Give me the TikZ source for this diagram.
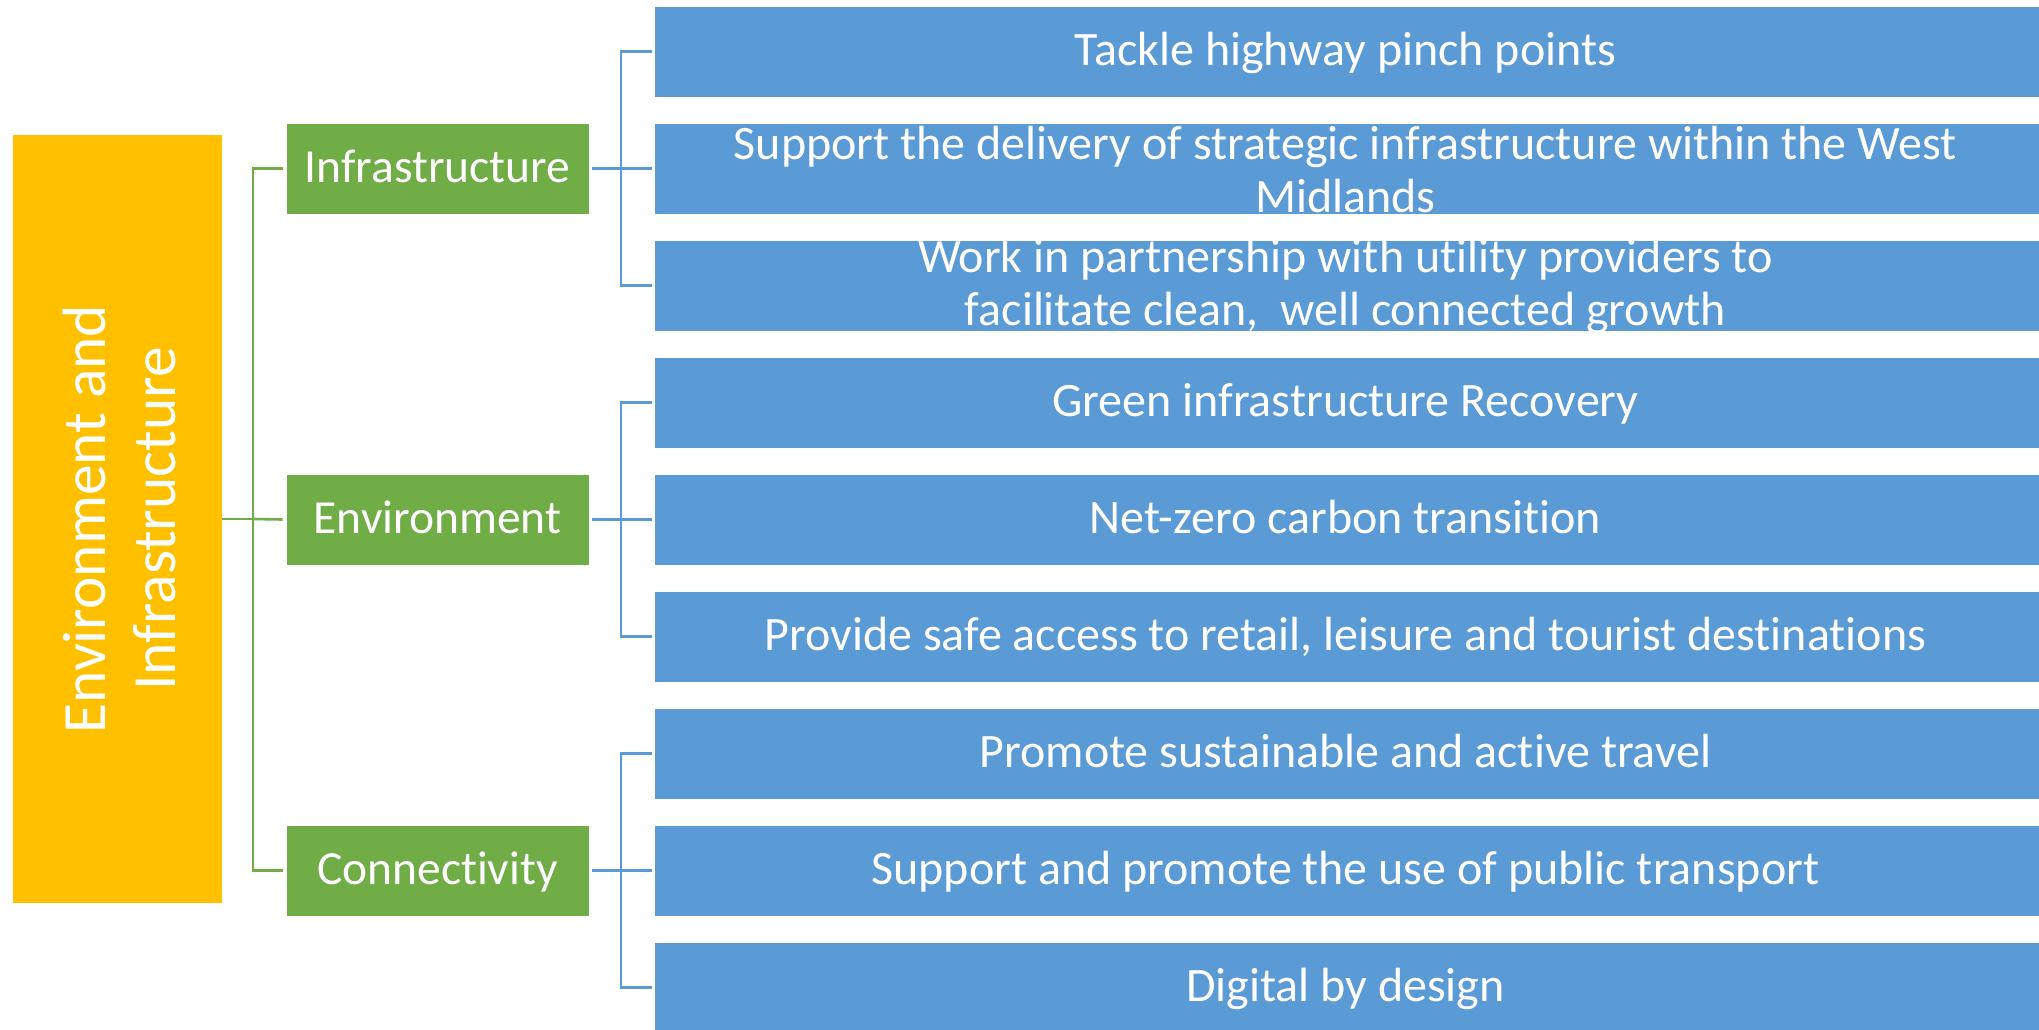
\documentclass[tikz,border=0pt]{standalone}
\usepackage{fontspec}
\setmainfont{Carlito}[Ligatures=NoCommon]
\definecolor{cyellow}{HTML}{FFC000}
\definecolor{cgreen}{HTML}{70AD47}
\definecolor{cblue}{HTML}{5B9BD5}
\begin{document}
\begin{tikzpicture}[x=1pt,y=-1pt,
  bluebox/.style={fill=cblue, draw=white, line width=0.8pt, minimum width=1400pt, minimum height=91pt, inner sep=0pt, anchor=west},
  bluetext/.style={text=white, font=\fontsize{48}{53}\selectfont, align=center, inner sep=0pt},
  bluetextone/.style={bluetext, text height=40pt, text depth=12pt},
  greenbox/.style={fill=cgreen, draw=white, line width=0.8pt, minimum width=303pt, minimum height=91pt, inner sep=0pt, text=white, font=\fontsize{47.5}{55}\selectfont, text height=40pt, text depth=12pt},
  yellowbox/.style={fill=cyellow, minimum width=209pt, minimum height=768pt, inner sep=0pt},
  yellowtext/.style={text=white, font=\fontsize{61.5}{70}\selectfont, align=center, rotate=90, inner sep=0pt},
  gline/.style={draw=cgreen, line width=2.6pt},
  bline/.style={draw=cblue, line width=2.6pt}]
\useasboundingbox (0,0) rectangle (2039,1030);
\fill[white] (0,0) rectangle (2039,1030);
% root
\node[yellowbox] (y) at (117.5,519) {};
\node[yellowtext] (yt) at ([xshift=2pt]y.center) {Environment and\\Infrastructure};
% level 2
\node[greenbox] (g1) at (437.5,168.5) {Infrastructure};
\node[greenbox] (g2) at (437.5,519.5) {Environment};
\node[greenbox] (g3) at (437.5,870.5) {Connectivity};
% level 3
\node[bluebox] (b1) at (654,51.5) {};
\node[bluebox] (b2) at (654,168.5) {};
\node[bluebox] (b3) at (654,285.5) {};
\node[bluebox] (b4) at (654,402.5) {};
\node[bluebox] (b5) at (654,519.5) {};
\node[bluebox] (b6) at (654,636.5) {};
\node[bluebox] (b7) at (654,753.5) {};
\node[bluebox] (b8) at (654,870.5) {};
\node[bluebox] (b9) at (654,987.5) {};
\node[bluetextone] (t1) at ([xshift=-9pt]b1.center) {Tackle highway pinch points};
\node[bluetext] (t2) at ([xshift=-9pt,yshift=-1pt]b2.center) {Support the delivery of strategic infrastructure within the West\\Midlands};
\node[bluetext] (t3) at ([xshift=-9pt,yshift=-1pt]b3.center) {Work in partnership with utility providers to\\facilitate clean,\ \ well connected growth};
\node[bluetextone] (t4) at ([xshift=-9pt]b4.center) {Green infrastructure Recovery};
\node[bluetextone] (t5) at ([xshift=-9pt]b5.center) {Net-zero carbon transition};
\node[bluetextone] (t6) at ([xshift=-9pt]b6.center) {Provide safe access to retail, leisure and tourist destinations};
\node[bluetextone] (t7) at ([xshift=-9pt]b7.center) {Promote sustainable and active travel};
\node[bluetextone] (t8) at ([xshift=-9pt]b8.center) {Support and promote the use of public transport};
\node[bluetextone] (t9) at ([xshift=-9pt]b9.center) {Digital by design};
% green connectors
\coordinate (gj) at (253,519);
\draw[gline] (y.east) -- (gj);
\draw[gline] ([xshift=-3pt]g1.west) -- (g1.west -| gj) -- (g3.west -| gj) -- ([xshift=-3pt]g3.west);
\draw[gline] (gj) -- ([xshift=-3pt]g2.west);
% blue connectors
\coordinate (bj1) at (621,168.5);
\coordinate (bj2) at (621,519.5);
\coordinate (bj3) at (621,870.5);
\draw[bline] ([xshift=3pt]g1.east) -- (bj1) -- ([xshift=-2pt]b2.west);
\draw[bline] ([xshift=-2pt]b1.west) -- (b1.west -| bj1) -- (b3.west -| bj1) -- ([xshift=-2pt]b3.west);
\draw[bline] ([xshift=3pt]g2.east) -- (bj2) -- ([xshift=-2pt]b5.west);
\draw[bline] ([xshift=-2pt]b4.west) -- (b4.west -| bj2) -- (b6.west -| bj2) -- ([xshift=-2pt]b6.west);
\draw[bline] ([xshift=3pt]g3.east) -- (bj3) -- ([xshift=-2pt]b8.west);
\draw[bline] ([xshift=-2pt]b7.west) -- (b7.west -| bj3) -- (b9.west -| bj3) -- ([xshift=-2pt]b9.west);
\end{tikzpicture}
\end{document}
